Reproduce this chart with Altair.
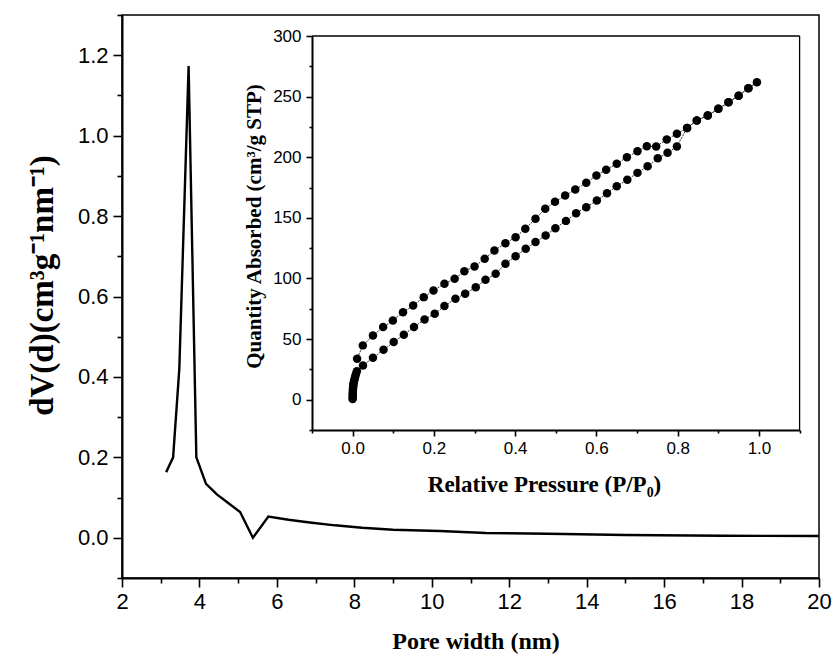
import altair as alt
import pandas as pd

# ---- main chart: pore size distribution ----
pore_width = [3.14, 3.32, 3.48, 3.72, 3.92, 4.17, 4.45, 4.71, 5.05, 5.38, 5.78,
              6.3, 6.85, 7.5, 8.2, 9.0, 10.2, 11.4, 13.0, 15.0, 17.5, 20.0]
dv = [0.163, 0.200, 0.420, 1.173, 0.200, 0.134, 0.108, 0.089, 0.064, 0.000, 0.053,
      0.045, 0.038, 0.031, 0.025, 0.020, 0.017, 0.012, 0.010, 0.007, 0.005, 0.0045]

# ---- inset: N2 isotherm ----
ads_p = [0.0000, 0.0001, 0.0002, 0.0003, 0.0005, 0.0007, 0.0010, 0.0014, 0.0019,
         0.0026, 0.0035, 0.0047, 0.0062, 0.0080, 0.0105, 0.0255, 0.050, 0.076,
         0.101, 0.126, 0.151, 0.177, 0.202, 0.226, 0.253, 0.277, 0.303, 0.327,
         0.352, 0.376, 0.401, 0.426, 0.450, 0.475, 0.499, 0.525, 0.550, 0.575,
         0.601, 0.626, 0.650, 0.676, 0.701, 0.726, 0.751, 0.775, 0.798, 0.823,
         0.847, 0.874, 0.900, 0.925, 0.950, 0.974, 0.995]
ads_q = [0.5, 2.0, 3.5, 5.0, 6.5, 8.0, 9.5, 11.0, 12.5, 14.0, 15.5, 17.0, 19.0,
         21.0, 23.5, 28.3, 34.5, 41.2, 47.5, 53.6, 59.9, 66.2, 70.9, 77.2, 83.3,
         87.4, 92.8, 98.9, 103.9, 112.1, 118.4, 124.5, 130.0, 135.5, 141.5, 147.5,
         153.8, 158.8, 164.3, 170.3, 176.1, 181.4, 187.1, 192.6, 199.2, 203.6,
         208.8, 224.2, 230.3, 234.4, 239.9, 245.3, 250.8, 256.9, 261.8]
des_p = [0.974, 0.950, 0.925, 0.900, 0.874, 0.847, 0.823, 0.798, 0.773, 0.747,
         0.724, 0.701, 0.675, 0.650, 0.624, 0.600, 0.575, 0.548, 0.523, 0.498,
         0.474, 0.450, 0.425, 0.401, 0.376, 0.349, 0.325, 0.300, 0.275, 0.251,
         0.226, 0.199, 0.175, 0.149, 0.124, 0.099, 0.075, 0.050, 0.025, 0.011]
des_q = [256.9, 250.8, 245.3, 239.9, 234.4, 230.3, 224.2, 219.3, 214.6, 208.8,
         209.0, 205.0, 200.0, 194.6, 189.6, 184.9, 178.9, 173.4, 168.4, 163.2,
         157.5, 149.2, 141.0, 134.0, 129.1, 123.1, 116.2, 109.9, 106.0, 99.7,
         95.6, 90.1, 84.6, 77.7, 72.2, 65.4, 59.9, 53.0, 44.8, 33.8]

# axis tick values
main_x_ticks = list(range(2, 21))
main_y_ticks = [-0.1, 0.0, 0.1, 0.2, 0.3, 0.4, 0.5, 0.6, 0.7, 0.8, 0.9, 1.0, 1.1, 1.2, 1.3]
inset_x_ticks = [-0.1, 0.0, 0.1, 0.2, 0.3, 0.4, 0.5, 0.6, 0.7, 0.8, 0.9, 1.0, 1.1]
inset_y_ticks = [-25, 0, 25, 50, 75, 100, 125, 150, 175, 200, 225, 250, 275, 300]

main_df = pd.DataFrame({"w": pore_width, "dv": dv})
iso_df = pd.DataFrame({
    "p": ads_p + des_p,
    "q": ads_q + des_q,
    "seq": list(range(len(ads_p) + len(des_p))),
})
box_df = pd.DataFrame({"x": [-0.1, 1.1], "x2": [1.1, 1.1], "y": [300, -25], "y2": [300, 300]})

W, H = 697, 563
SANS = "Liberation Sans"
SERIF = "Liberation Serif"

def tsize(test, major, minor):
    return {"condition": {"test": test, "value": major}, "value": minor}

main_x_axis = alt.Axis(
    orient="bottom", values=main_x_ticks, title="Pore width (nm)",
    labelExpr="datum.value % 2 == 0 ? datum.label : ''",
    tickSize=tsize("datum.value % 2 == 0", 9, 5),
    labelFontSize=22, labelPadding=4, labelFont=SANS, labelFlush=False, labelOverlap=False,
    titleFont=SERIF, titleFontSize=24, titleFontWeight="bold",
    titleX=W / 2 + 5, titleY=63, titleBaseline="middle", titleAlign="center",
)
main_y_axis = alt.Axis(
    orient="left", values=main_y_ticks, title="dV(d)(cm³g⁻¹nm⁻¹)", format=".1f",
    labelExpr="abs(round(datum.value * 10)) % 2 == 0 ? datum.label : ''",
    tickSize=tsize("abs(round(datum.value * 10)) % 2 == 0", 9, 5),
    labelFontSize=22, labelPadding=5, labelFont=SANS, labelFlush=False, labelOverlap=False,
    titleFont=SERIF, titleFontSize=33, titleFontWeight="bold",
    titleX=-80, titleY=270, titleAngle=270, titleBaseline="middle", titleAlign="center",
)

main = alt.Chart(main_df).mark_line(color="black", strokeWidth=2.4).encode(
    x=alt.X("w:Q", scale=alt.Scale(domain=[2, 20], nice=False, zero=False), axis=main_x_axis),
    y=alt.Y("dv:Q", scale=alt.Scale(domain=[-0.1, 1.3], nice=False, zero=False), axis=main_y_axis),
)

# inset geometry inside the main plot area (pixels)
IX = [190, 677.6]
IY = [415, 21]

ix_scale = alt.Scale(domain=[-0.1, 1.1], range=IX, nice=False, zero=False)
iy_scale = alt.Scale(domain=[-25, 300], range=IY, nice=False, zero=False)

inset_x_axis = alt.Axis(
    orient="bottom", offset=-(H - IY[0]), values=inset_x_ticks, format=".1f",
    title="Relative Pressure (P/P₀)",
    labelExpr="abs(round(datum.value * 10)) % 2 == 0 ? datum.label : ''",
    tickSize=tsize("abs(round(datum.value * 10)) % 2 == 0", 6, 3),
    labelFontSize=17, labelPadding=4, labelFont=SANS, labelFlush=False, labelOverlap=False,
    titleFont=SERIF, titleFontSize=23, titleFontWeight="bold",
    titleX=422, titleY=54, titleBaseline="middle", titleAlign="center",
)
inset_y_axis = alt.Axis(
    orient="left", offset=-IX[0], values=inset_y_ticks,
    title="Quantity Absorbed  (cm³/g STP)",
    labelExpr="datum.value % 50 == 0 ? datum.label : ''",
    tickSize=tsize("datum.value % 50 == 0", 6, 3),
    labelFontSize=17, labelPadding=5, labelFont=SANS, labelFlush=False, labelOverlap=False,
    titleFont=SERIF, titleFontSize=21, titleFontWeight="bold",
    titleX=-58, titleY=211, titleAngle=270, titleBaseline="middle", titleAlign="center",
)

iso_line = alt.Chart(iso_df).mark_line(color="black", strokeWidth=0.8, strokeDash=[2, 1]).encode(
    x=alt.X("p:Q", scale=ix_scale, axis=inset_x_axis),
    y=alt.Y("q:Q", scale=iy_scale, axis=inset_y_axis),
    order="seq:Q",
)
iso_box = alt.Chart(box_df).mark_rule(color="black", strokeWidth=1.3).encode(
    x=alt.X("x:Q", scale=ix_scale, axis=None),
    x2="x2:Q",
    y=alt.Y("y:Q", scale=iy_scale, axis=None),
    y2="y2:Q",
)
iso_pts = alt.Chart(iso_df).mark_point(filled=True, size=72, color="black", opacity=1).encode(
    x=alt.X("p:Q", scale=ix_scale, axis=None),
    y=alt.Y("q:Q", scale=iy_scale, axis=None),
)

chart = alt.layer(main, iso_line, iso_box, iso_pts).resolve_scale(
    x="independent", y="independent"
).resolve_axis(
    x="independent", y="independent"
).properties(
    width=W, height=H,
    autosize=alt.AutoSizeParams(type="none"),
    padding={"left": 122, "top": 15, "right": 16, "bottom": 90},
).configure_view(
    stroke="black", strokeWidth=1.5
).configure_axis(
    grid=False, domainColor="black", domainWidth=2, tickColor="black", tickWidth=1.6,
    labelColor="black", titleColor="black",
)

chart.save("out.html", embed_options={"renderer": "svg", "actions": False})
